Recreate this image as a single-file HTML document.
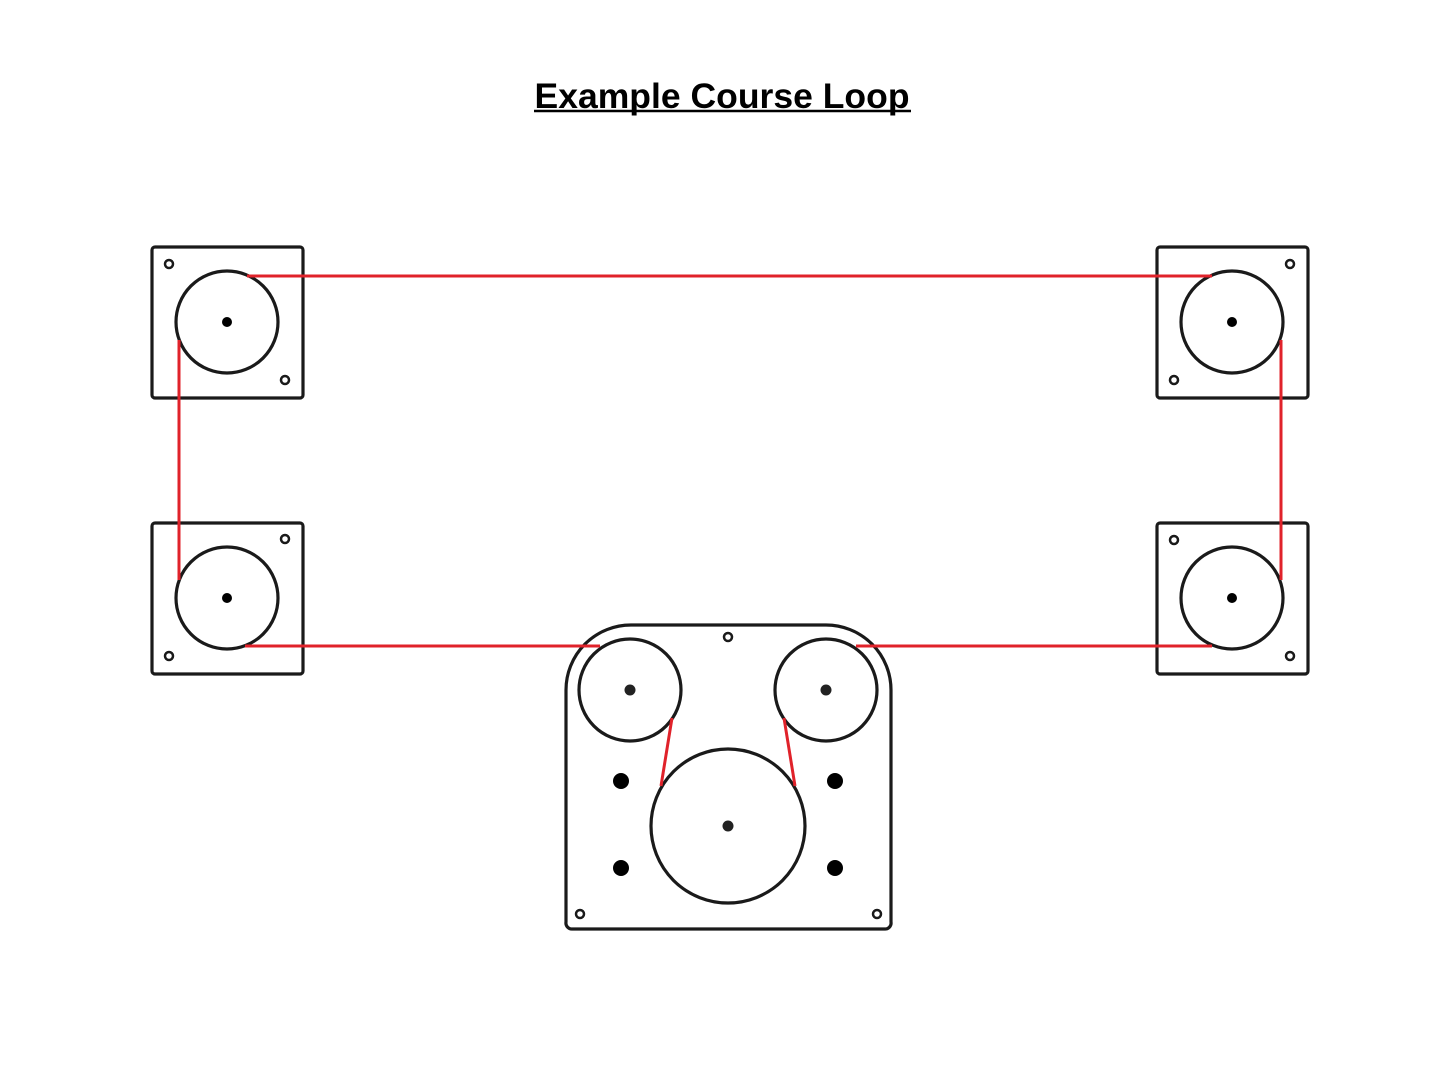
<!DOCTYPE html>
<html><head><style>body{margin:0;background:#fff}svg{display:block}</style></head><body>
<svg width="1445" height="1084" viewBox="0 0 1445 1084" xmlns="http://www.w3.org/2000/svg">
<text x="722" y="108" text-anchor="middle" font-family="Liberation Sans, sans-serif" font-weight="bold" font-size="35.5" textLength="375">Example Course Loop</text>
<line x1="534" y1="111" x2="911" y2="111" stroke="#000" stroke-width="2.5"/>
<g fill="none" stroke="#1a1a1a" stroke-width="3.2">
<rect x="152" y="247" width="151" height="151" rx="3"/>
<rect x="1157" y="247" width="151" height="151" rx="3"/>
<rect x="152" y="523" width="151" height="151" rx="3"/>
<rect x="1157" y="523" width="151" height="151" rx="3"/>
<circle cx="227" cy="322" r="51"/><circle cx="1232" cy="322" r="51"/>
<circle cx="227" cy="598" r="51"/><circle cx="1232" cy="598" r="51"/>
<path d="M566 690 A65 65 0 0 1 631 625 H826 A65 65 0 0 1 891 690 V922 A6 6 0 0 1 885 929 H572 A6 6 0 0 1 566 922 Z"/>
<circle cx="630" cy="690" r="51"/><circle cx="826" cy="690" r="51"/>
<circle cx="728" cy="826" r="77"/>
<g stroke-width="2.5">
<circle cx="169" cy="264" r="4"/><circle cx="285" cy="380" r="4"/>
<circle cx="1290" cy="264" r="4"/><circle cx="1174" cy="380" r="4"/>
<circle cx="285" cy="539" r="4"/><circle cx="169" cy="656" r="4"/>
<circle cx="1174" cy="540" r="4"/><circle cx="1290" cy="656" r="4"/>
<circle cx="728" cy="637" r="4"/><circle cx="580" cy="914" r="4"/><circle cx="877" cy="914" r="4"/>
</g>
</g>
<g fill="#000">
<circle cx="227" cy="322" r="5"/><circle cx="1232" cy="322" r="5"/>
<circle cx="227" cy="598" r="5"/><circle cx="1232" cy="598" r="5"/>
<circle cx="630" cy="690" r="5.5" fill="#222"/><circle cx="826" cy="690" r="5.5" fill="#222"/><circle cx="728" cy="826" r="5.5" fill="#222"/>
<circle cx="621" cy="781" r="8"/><circle cx="835" cy="781" r="8"/><circle cx="621" cy="868" r="8"/><circle cx="835" cy="868" r="8"/>
</g>
<g stroke="#e0222a" stroke-width="3" fill="none">
<line x1="247" y1="276" x2="1212" y2="276"/>
<line x1="179" y1="340" x2="179" y2="580"/>
<line x1="1281" y1="340" x2="1281" y2="580"/>
<line x1="245" y1="646" x2="600" y2="646"/>
<line x1="856" y1="646" x2="1212" y2="646"/>
<line x1="672" y1="718" x2="661" y2="786"/>
<line x1="784" y1="718" x2="795" y2="786"/>
</g>
</svg>
</body></html>
